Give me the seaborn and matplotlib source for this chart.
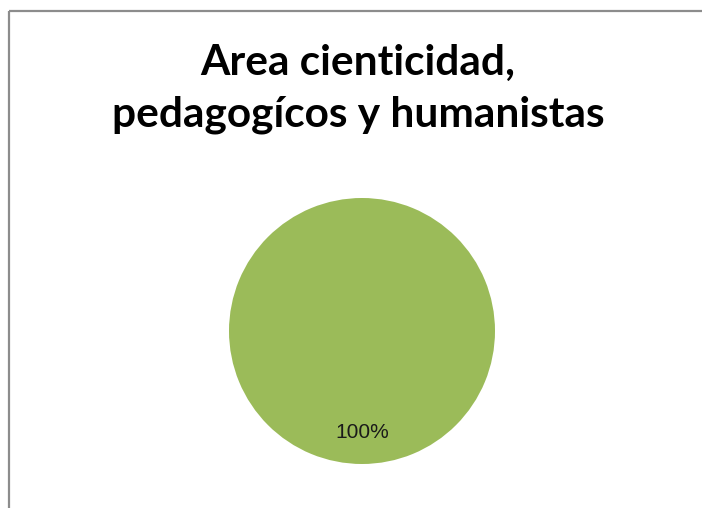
import seaborn as sns
import matplotlib.pyplot as plt
from matplotlib.lines import Line2D

# single category pie
labels = ['Area cienticidad, pedagogícos y humanistas']
values = [100]
colors = ['#9BBB59']
title_lines = ['Area cienticidad,', 'pedagogícos y humanistas']

sns.set_theme(style="white")
plt.rcParams['font.family'] = ['Lato', 'DejaVu Sans']

W, H = 702, 508
fig = plt.figure(figsize=(W / 100, H / 100), dpi=100)

# chart area border, only top and left visible in the original
fig.add_artist(Line2D([8.5 / W, 1.05], [1 - 10.5 / H] * 2, transform=fig.transFigure,
                      color='#8c8c8c', linewidth=1.6, solid_capstyle='butt'))
fig.add_artist(Line2D([8.5 / W] * 2, [-0.05, 1 - 10.5 / H], transform=fig.transFigure,
                      color='#8c8c8c', linewidth=1.6, solid_capstyle='butt'))

ax = fig.add_axes([(362 - 133) / W, (H - 331 - 133) / H, 266 / W, 266 / H])
wedges, texts, autotexts = ax.pie(values, colors=colors, startangle=90,
                                  autopct='%1.0f%%', pctdistance=0.76,
                                  wedgeprops={'linewidth': 0},
                                  textprops={'fontsize': 15, 'color': '#1a1a1a',
                                             'family': ['Liberation Sans', 'DejaVu Sans']})
ax.set_aspect('equal')
ax.set_xlim(-1, 1)
ax.set_ylim(-1, 1)

for line, base in zip(title_lines, [75, 127]):
    fig.text(358 / W, 1 - base / H, line, ha='center', va='baseline',
             fontsize=30.5, fontweight='bold', color='black')

plt.savefig('out.png', dpi=100)
